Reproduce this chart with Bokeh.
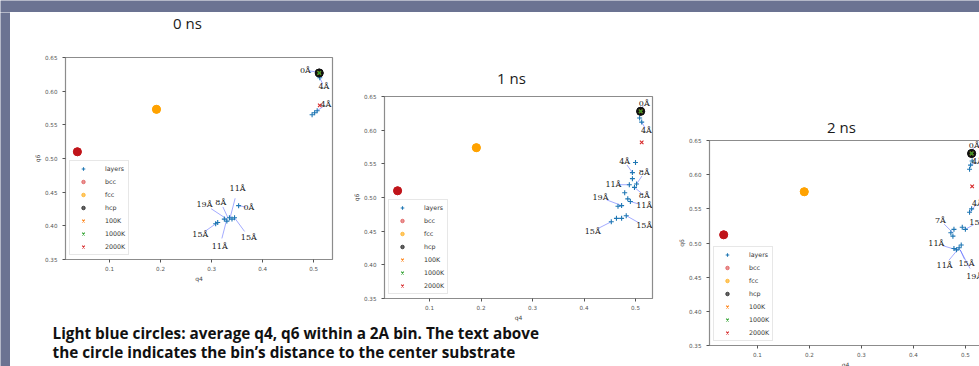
from bokeh.plotting import figure
from bokeh.layouts import row, column
from bokeh.models import Range1d, FixedTicker, NumeralTickFormatter, Legend, LegendItem
from bokeh.core.properties import value
from bokeh.embed import file_html
from bokeh.resources import INLINE

# ---------------- data ----------------
titles = ["0 ns", "1 ns", "2 ns"]

bcc_q4 = [0.037, 0.038, 0.035]
bcc_q6 = [0.510, 0.510, 0.512]
fcc_q4 = [0.192, 0.191, 0.190]
fcc_q6 = [0.573, 0.574, 0.575]
hcp_q4 = [0.511, 0.510, 0.512]
hcp_q6 = [0.627, 0.628, 0.631]
k100_q4 = [0.511, 0.510, 0.512]
k100_q6 = [0.627, 0.628, 0.631]
k1000_q4 = [0.511, 0.510, 0.512]
k1000_q6 = [0.627, 0.628, 0.631]
k2000_q4 = [0.512, 0.512, 0.513]
k2000_q6 = [0.579, 0.582, 0.583]

layers0_q4 = [0.510, 0.512, 0.497, 0.502, 0.507, 0.308, 0.312, 0.325, 0.330, 0.335, 0.340, 0.345, 0.353]
layers0_q6 = [0.628, 0.620, 0.565, 0.568, 0.571, 0.403, 0.405, 0.410, 0.407, 0.412, 0.410, 0.412, 0.430]
layers1_q4 = [0.510, 0.508, 0.512, 0.500, 0.494, 0.494, 0.502, 0.498, 0.488, 0.479, 0.485, 0.490,
              0.473, 0.466, 0.482, 0.473, 0.463, 0.453]
layers1_q6 = [0.628, 0.618, 0.612, 0.552, 0.537, 0.528, 0.520, 0.515, 0.519, 0.507, 0.498, 0.494,
              0.488, 0.487, 0.473, 0.469, 0.469, 0.464]
layers2_q4 = [0.512, 0.513, 0.508, 0.510, 0.508, 0.512, 0.494, 0.500, 0.478, 0.472, 0.476,
              0.488, 0.483, 0.492, 0.478]
layers2_q6 = [0.631, 0.620, 0.608, 0.614, 0.545, 0.550, 0.523, 0.520, 0.520, 0.515, 0.510,
              0.493, 0.490, 0.497, 0.492]

ann0_text = ["0Å", "4Å", "4Å", "11Å", "19Å", "8Å", "0Å", "15Å", "11Å", "15Å"]
ann0_q4 = [0.484, 0.520, 0.524, 0.351, 0.286, 0.318, 0.373, 0.278, 0.316, 0.373]
ann0_q6 = [0.631, 0.607, 0.580, 0.455, 0.432, 0.435, 0.427, 0.387, 0.369, 0.383]
ann0_tq4 = [0.510, 0.512, 0.505, 0.335, 0.330, 0.332, 0.353, 0.310, 0.330, 0.345]
ann0_tq6 = [0.628, 0.620, 0.570, 0.408, 0.410, 0.412, 0.430, 0.404, 0.410, 0.412]

ann1_text = ["0Å", "4Å", "4Å", "8Å", "11Å", "8Å", "19Å", "11Å", "15Å", "15Å"]
ann1_q4 = [0.517, 0.521, 0.479, 0.517, 0.457, 0.517, 0.432, 0.517, 0.417, 0.517]
ann1_q6 = [0.640, 0.600, 0.553, 0.537, 0.519, 0.503, 0.500, 0.488, 0.450, 0.458]
ann1_tq4 = [0.510, 0.512, 0.494, 0.502, 0.488, 0.498, 0.473, 0.490, 0.453, 0.482]
ann1_tq6 = [0.628, 0.612, 0.537, 0.520, 0.519, 0.515, 0.488, 0.494, 0.464, 0.473]

ann2_text = ["0Å", "4Å", "4Å", "7Å", "15Å", "11Å", "11Å", "15Å", "19Å"]
ann2_q4 = [0.517, 0.523, 0.523, 0.452, 0.523, 0.444, 0.460, 0.502, 0.517]
ann2_q6 = [0.643, 0.619, 0.558, 0.533, 0.530, 0.499, 0.467, 0.470, 0.451]
ann2_tq4 = [0.512, 0.510, 0.508, 0.476, 0.500, 0.483, 0.488, 0.490, 0.490]
ann2_tq6 = [0.631, 0.614, 0.545, 0.515, 0.520, 0.490, 0.493, 0.490, 0.490]

y_ticks = [0.35, 0.40, 0.45, 0.50, 0.55, 0.60, 0.65]
x_ticks = [0.1, 0.2, 0.3, 0.4, 0.5]

caption_lines = ["Light blue circles: average q4, q6 within a 2A bin. The text above",
                 "the circle indicates the bin\u2019s distance to the center substrate"]

layers_q4 = [layers0_q4, layers1_q4, layers2_q4]
layers_q6 = [layers0_q6, layers1_q6, layers2_q6]
anns = [(ann0_text, ann0_q4, ann0_q6, ann0_tq4, ann0_tq6),
        (ann1_text, ann1_q4, ann1_q6, ann1_tq4, ann1_tq6),
        (ann2_text, ann2_q4, ann2_q6, ann2_tq4, ann2_tq6)]

# ---------------- layout constants ----------------
SLATE = "#6b7392"
x_ranges = [(0.0137, 0.537), (0.0126, 0.533), (0.0077, 0.531)]
frame_w = [267, 268, 272]
frame_h = [202, 202, 205]
borders = [  # left, right, top, bottom
    (55, 18, 5, 63),
    (30, 15, 5, 24),
    (42, 2, 5, 21),
]
title_h = [40, 79, 123]          # height of the title strip above each plot
title_xy = [(122, 10), (127, 65), (132, 114)]  # title centre inside that strip (px)

TICK_FONT = "DejaVu Sans"
FRAME_COL = "#8c8c8c"


def make_title(i):
    l, r, _, _ = borders[i]
    t = figure(frame_width=frame_w[i], frame_height=title_h[i],
               x_range=Range1d(0, frame_w[i]), y_range=Range1d(title_h[i], 0),
               output_backend="svg", toolbar_location=None,
               min_border_left=l, min_border_right=r, min_border_top=0, min_border_bottom=0,
               outline_line_color=None, background_fill_color="white", border_fill_color="white")
    t.axis.visible = False
    t.grid.visible = False
    tx, ty = title_xy[i]
    t.text(x=[tx], y=[ty], text=[titles[i]], text_align="center", text_baseline="middle",
           text_font=value("Open Sans"), text_font_size="15px", text_color="#1a1a1a")
    return t


def make_plot(i):
    l, r, t, b = borders[i]
    p = figure(frame_width=frame_w[i], frame_height=frame_h[i],
               x_range=Range1d(*x_ranges[i]), y_range=Range1d(0.35, 0.65),
               output_backend="svg", toolbar_location=None,
               min_border_left=l, min_border_right=r, min_border_top=t, min_border_bottom=b,
               background_fill_color="white", border_fill_color="white",
               outline_line_color=FRAME_COL, outline_line_width=1.2)
    p.grid.visible = False
    for ax in (p.xaxis[0], p.yaxis[0]):
        ax.axis_line_color = FRAME_COL
        ax.major_tick_line_color = "#555555"
        ax.major_tick_out = 3
        ax.major_tick_in = 0
        ax.minor_tick_line_color = None
        ax.major_label_text_font = TICK_FONT
        ax.major_label_text_font_size = "5.6px"
        ax.major_label_text_color = "#555555"
        ax.axis_label_text_font = TICK_FONT
        ax.axis_label_text_font_size = "6px"
        ax.axis_label_text_font_style = "normal"
        ax.axis_label_text_color = "#444444"
        ax.axis_label_standoff = 1
    p.yaxis.ticker = FixedTicker(ticks=y_ticks)
    p.yaxis.formatter = NumeralTickFormatter(format="0.00")
    p.yaxis.major_label_standoff = 5
    p.yaxis.axis_label = "q6"
    p.xaxis.ticker = FixedTicker(ticks=x_ticks)
    p.xaxis.formatter = NumeralTickFormatter(format="0.0")
    p.xaxis.major_label_standoff = 3
    p.xaxis.axis_label = "q4"

    # annotation arrows
    txt, aq4, aq6, tq4, tq6 = anns[i]
    sx = [a + 0.3 * (c - a) for a, c in zip(aq4, tq4)]
    sy = [a + 0.3 * (c - a) for a, c in zip(aq6, tq6)]
    p.segment(x0=sx, y0=sy, x1=tq4, y1=tq6, line_color="#3344ff", line_alpha=0.5, line_width=0.9)

    r_layers = p.scatter(layers_q4[i], layers_q6[i], marker="cross", size=5,
                         line_color="#1f77b4", line_width=1.1)
    # reference structures: translucent legend copy + solid point
    r_bcc = p.scatter([bcc_q4[i]], [bcc_q6[i]], marker="circle", size=8,
                      fill_color="#d62728", line_color="#d62728", fill_alpha=0.5, line_alpha=0.5)
    p.scatter([bcc_q4[i]], [bcc_q6[i]], marker="circle", size=8,
              fill_color="#c0141a", line_color="#c0141a")
    r_fcc = p.scatter([fcc_q4[i]], [fcc_q6[i]], marker="circle", size=8,
                      fill_color="#ffa500", line_color="#ffa500", fill_alpha=0.6, line_alpha=0.6)
    p.scatter([fcc_q4[i]], [fcc_q6[i]], marker="circle", size=8,
              fill_color="#ffa200", line_color="#ffa200")
    r_hcp = p.scatter([hcp_q4[i]], [hcp_q6[i]], marker="circle", size=8,
                      fill_color="black", line_color="black", fill_alpha=0.6, line_alpha=0.6)
    p.scatter([hcp_q4[i]], [hcp_q6[i]], marker="circle", size=8,
              fill_color="#111111", line_color="#111111")
    r_100 = p.scatter([k100_q4[i]], [k100_q6[i]], marker="x", size=5,
                      line_color="#ff7f0e", line_width=1.1)
    r_1000 = p.scatter([k1000_q4[i]], [k1000_q6[i]], marker="x", size=5,
                       line_color="#2ca02c", line_width=1.1)
    r_2000 = p.scatter([k2000_q4[i]], [k2000_q6[i]], marker="x", size=5,
                       line_color="#d62728", line_width=1.1)

    p.text(x=aq4, y=aq6, text=txt, text_align="center", text_baseline="middle",
           text_font=value("DejaVu Serif"), text_font_size="8px", text_color="#222222")

    items = [LegendItem(label="layers", renderers=[r_layers]),
             LegendItem(label="bcc", renderers=[r_bcc]),
             LegendItem(label="fcc", renderers=[r_fcc]),
             LegendItem(label="hcp", renderers=[r_hcp]),
             LegendItem(label="100K", renderers=[r_100]),
             LegendItem(label="1000K", renderers=[r_1000]),
             LegendItem(label="2000K", renderers=[r_2000])]
    leg = Legend(items=items, location="bottom_left", margin=4, padding=3,
                 spacing=4, label_height=9, glyph_height=9, glyph_width=20,
                 label_standoff=12, label_text_font=TICK_FONT, label_text_font_size="6.3px",
                 label_text_color="#333333", border_line_color="#cfcfcf",
                 border_line_width=1, background_fill_alpha=0.9)
    p.add_layout(leg)
    return p


def strip(w, h):
    s = figure(width=w, height=h, output_backend="svg", toolbar_location=None, min_border=0,
               x_range=Range1d(0, 1), y_range=Range1d(0, 1),
               outline_line_color=None, background_fill_color=SLATE, border_fill_color=SLATE)
    s.axis.visible = False
    s.grid.visible = False
    return s


cols = [column(make_title(i), make_plot(i)) for i in range(3)]

cap = figure(width=653, height=44, x_range=Range1d(0, 653), y_range=Range1d(44, 0),
             output_backend="svg", toolbar_location=None, min_border=0,
             outline_line_color=None, background_fill_color="white", border_fill_color="white")
cap.axis.visible = False
cap.grid.visible = False
cap.text(x=[42, 42], y=[9, 28], text=caption_lines, text_align="left", text_baseline="middle",
         text_font=value("Open Sans"), text_font_style="bold", text_font_size="15.3px",
         text_color="#111111")

content = row(column(row(cols[0], cols[1]), cap), cols[2])
p = column(strip(979, 12), row(strip(10, 354), content))

open("out.html", "w").write(file_html(p, INLINE))
